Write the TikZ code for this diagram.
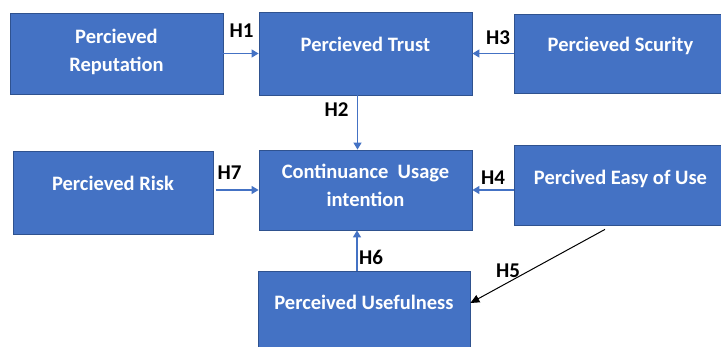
\documentclass[tikz,border=0pt]{standalone}
\usepackage{fontspec}
\setmainfont{Carlito}
\usetikzlibrary{arrows.meta}
\definecolor{boxblue}{RGB}{68,114,196}
\definecolor{edgeblue}{RGB}{47,82,143}

\tikzset{
  box/.style={draw=edgeblue, line width=0.8pt, fill=boxblue, text=white,
    font=\fontsize{20.5}{28}\selectfont\bfseries, align=center, inner sep=0pt,
    minimum width=213pt, minimum height=81pt, text depth=18pt},
  hlab/.style={font=\fontsize{21}{24}\selectfont\bfseries, inner sep=0pt},
  link/.style={draw=boxblue, line width=1.3pt, -{Triangle[length=7pt,width=8pt]}},
  hfive/.style={draw=black, line width=1pt, -{Triangle[length=9pt,width=8pt]}}
}

\begin{document}
\begin{tikzpicture}[x=1pt,y=-1pt]
  \useasboundingbox (0,0) rectangle (721,347);
  \clip (0,0) rectangle (721,347);
  \fill[white] (0,0) rectangle (721,347);

  % constructs
  \node[box, text depth=6pt] (rep) at (116.5,53.5) {Percieved\\Reputation};
  \node[box, minimum height=83pt] (trust) at (365.5,53.5) {Percieved Trust};
  \node[box, minimum height=79pt] (scurity) at (620.5,53.5) {Percieved Scurity};
  \node[box, minimum width=200pt, minimum height=83pt] (risk) at (113,192.5) {Percieved Risk};
  \node[box, minimum height=80pt, text depth=10pt] (cont) at (365.5,190) {Continuance~ Usage\\intention};
  \node[box, minimum height=80pt, text depth=15pt] (easy) at (620.5,185) {Percived Easy of Use};
  \node[box, minimum width=212pt, minimum height=80pt, text depth=17pt] (useful) at (364,311) {Perceived Usefulness};

  % hypotheses
  \coordinate (h2top) at ([xshift=-8pt]trust.south);
  \coordinate (h7start) at ([xshift=3pt]risk.east);
  \coordinate (h6foot) at ([xshift=-7pt]useful.north);
  \coordinate (h5start) at ([shift={(-15.5pt,-4pt)}]easy.south);

  \draw[link] (rep.east) -- (rep.east -| trust.west);
  \draw[link] (scurity.west) -- (scurity.west -| trust.east);
  \draw[link] (h2top) -- (h2top |- cont.north);
  \draw[link] (h7start |- cont.west) -- (cont.west);
  \draw[link] (cont.east -| easy.west) -- (cont.east);
  \draw[link] (h6foot) -- (h6foot |- cont.south);
  \draw[hfive] (h5start) -- ([yshift=8pt]useful.east);

  \node[hlab] (h1) at (241.5,31) {H1};
  \node[hlab] (h2) at (336.5,110) {H2};
  \node[hlab] (h3) at (498,38) {H3};
  \node[hlab] (h4) at (493,177.5) {H4};
  \node[hlab] (h5) at (508,270.5) {H5};
  \node[hlab] (h6) at (371,257) {H6};
  \node[hlab] (h7) at (229.5,172.5) {H7};
\end{tikzpicture}
\end{document}
